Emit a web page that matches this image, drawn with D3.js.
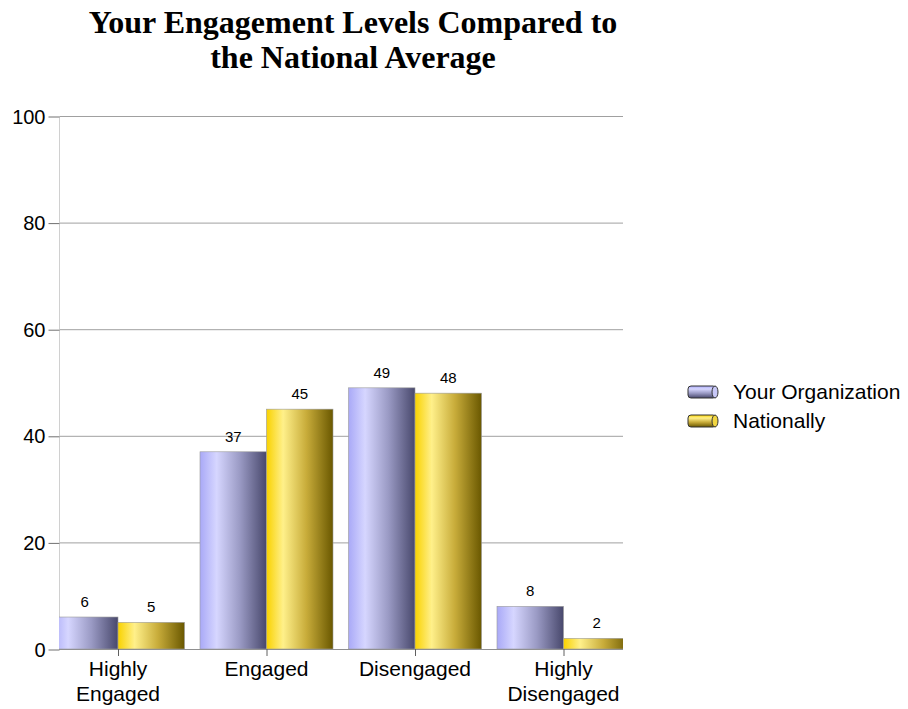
<!DOCTYPE html>
<html>
<head>
<meta charset="utf-8">
<script src="https://cdn.jsdelivr.net/npm/d3@7"></script>
<style>
  body { margin: 0; background: #fff; }
  svg { display: block; }
</style>
</head>
<body>
<svg id="chart" width="908" height="709"></svg>
<script>
// Engagement categories and the two series compared
const categories = ["Highly Engaged", "Engaged", "Disengaged", "Highly Disengaged"];
const seriesNames = ["Your Organization", "Nationally"];
const yourOrganization = [6, 37, 49, 8];
const nationally = [5, 45, 48, 2];
const yTicks = [0, 20, 40, 60, 80, 100];

const svg = d3.select("#chart");
const plot = { left: 59, right: 623, top: 116, bottom: 649 };

// Gradients giving each bar its rounded, shaded look
const defs = svg.append("defs");
const gradStops = [
  [["0%", "#a9a9f7"], ["25%", "#d6d6ff"], ["60%", "#9a9ac4"], ["100%", "#48486c"]],
  [["0%", "#f9d200"], ["25%", "#fff08a"], ["60%", "#c8ac3a"], ["100%", "#6a5800"]]
];
gradStops.forEach((stops, i) => {
  const g = defs.append("linearGradient").attr("id", "grad" + i)
    .attr("x1", "0%").attr("x2", "100%").attr("y1", "0%").attr("y2", "0%");
  stops.forEach(s => g.append("stop").attr("offset", s[0]).attr("stop-color", s[1]));
  const gv = defs.append("linearGradient").attr("id", "gradv" + i)
    .attr("x1", "0%").attr("x2", "0%").attr("y1", "0%").attr("y2", "100%");
  stops.forEach(s => gv.append("stop").attr("offset", s[0]).attr("stop-color", s[1]));
});
defs.append("clipPath").attr("id", "plotClip")
  .append("rect")
  .attr("x", plot.left).attr("y", plot.top - 40)
  .attr("width", plot.right - plot.left).attr("height", plot.bottom - plot.top + 40);

const y = d3.scaleLinear().domain([0, 100]).range([plot.bottom, plot.top]);
const x = d3.scalePoint().domain(categories).range([118, 563.5]);
const halfGroup = 66.5;
const xs = d3.scaleBand().domain(seriesNames).range([-halfGroup, halfGroup]).padding(0);

// Title
const title = svg.append("text")
  .attr("x", 353).attr("y", 33)
  .attr("text-anchor", "middle")
  .style("font-family", "'Liberation Serif', 'Times New Roman', serif")
  .style("font-weight", "bold")
  .style("font-size", "32px")
  .attr("fill", "#000");
title.append("tspan").attr("x", 353).attr("dy", 0).text("Your Engagement Levels Compared to");
title.append("tspan").attr("x", 353).attr("dy", 35).text("the National Average");

// Gridlines
svg.append("g").selectAll("line").data(yTicks.filter(d => d > 0)).join("line")
  .attr("x1", plot.left).attr("x2", plot.right)
  .attr("y1", d => y(d) + 0.5).attr("y2", d => y(d) + 0.5)
  .attr("stroke", "#a0a0a0").attr("stroke-width", 1);

// Y axis
const yAxis = svg.append("g")
  .attr("transform", `translate(${plot.left + 0.5},0)`)
  .call(d3.axisLeft(y).tickValues(yTicks).tickSize(11).tickPadding(3));
yAxis.select(".domain").attr("stroke", "#d0d0d0").attr("d", `M0,${plot.top}V${plot.bottom}`);
yAxis.selectAll(".tick line").attr("stroke", "#707070").attr("transform", "translate(0,0.5)");
yAxis.selectAll(".tick text")
  .style("font-family", "'Liberation Sans', Arial, sans-serif")
  .style("font-size", "20px").attr("fill", "#000").attr("dy", "0.35em");

// Bars
const rows = categories.map((c, i) => ({ cat: c, values: [yourOrganization[i], nationally[i]] }));
const barsG = svg.append("g").attr("clip-path", "url(#plotClip)");
rows.forEach(r => {
  r.values.forEach((v, si) => {
    const x0 = x(r.cat) + xs(seriesNames[si]);
    barsG.append("rect")
      .attr("x", x0).attr("y", y(v))
      .attr("width", xs.bandwidth()).attr("height", y(0) - y(v))
      .attr("fill", `url(#grad${si})`)
      .attr("stroke", "#9a9a9a").attr("stroke-width", 0.6);
    barsG.append("text")
      .attr("x", x0 + xs.bandwidth() / 2).attr("y", y(v) - 10)
      .attr("text-anchor", "middle")
      .style("font-family", "'Liberation Sans', Arial, sans-serif")
      .style("font-size", "15px").attr("fill", "#000")
      .text(v);
  });
});

// X axis baseline and category ticks
svg.append("line")
  .attr("x1", plot.left).attr("x2", plot.right)
  .attr("y1", plot.bottom + 0.5).attr("y2", plot.bottom + 0.5)
  .attr("stroke", "#909090");
svg.append("g").selectAll("line").data(categories).join("line")
  .attr("x1", d => x(d) + 0.5).attr("x2", d => x(d) + 0.5)
  .attr("y1", plot.bottom).attr("y2", plot.bottom + 7)
  .attr("stroke", "#606060");

const labelLines = { "Highly Engaged": ["Highly", "Engaged"], "Engaged": ["Engaged"],
  "Disengaged": ["Disengaged"], "Highly Disengaged": ["Highly", "Disengaged"] };
const catLabels = svg.append("g").selectAll("text").data(categories).join("text")
  .attr("text-anchor", "middle")
  .style("font-family", "'Liberation Sans', Arial, sans-serif")
  .style("font-size", "21px").attr("fill", "#000")
  .attr("y", plot.bottom + 27);
catLabels.each(function(d) {
  const t = d3.select(this);
  labelLines[d].forEach((ln, i) => {
    t.append("tspan").attr("x", x(d)).attr("dy", i === 0 ? 0 : 25).text(ln);
  });
});

// Legend with small cylinder swatches
const legend = svg.append("g").attr("transform", "translate(688,392)");
seriesNames.forEach((name, i) => {
  const g = legend.append("g").attr("transform", `translate(0,${i * 29})`);
  g.append("rect").attr("x", 0).attr("y", -6).attr("width", 28).attr("height", 12)
    .attr("rx", 3).attr("fill", `url(#gradv${i})`).attr("stroke", "#333").attr("stroke-width", 1);
  g.append("ellipse").attr("cx", 27).attr("cy", 0).attr("rx", 3).attr("ry", 6)
    .attr("fill", i === 0 ? "#c8c8f8" : "#f2d640").attr("stroke", "#333").attr("stroke-width", 1);
  g.append("text").attr("x", 45).attr("y", 0).attr("dy", "0.35em")
    .style("font-family", "'Liberation Sans', Arial, sans-serif")
    .style("font-size", "21px").attr("fill", "#000")
    .text(name);
});
</script>
</body>
</html>
